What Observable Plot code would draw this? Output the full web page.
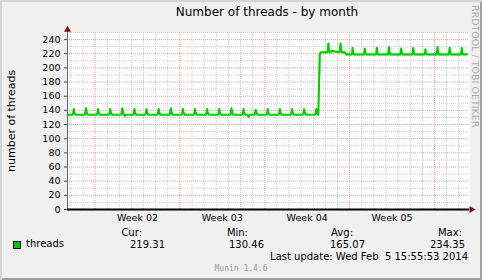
<!DOCTYPE html>
<html><head><meta charset="utf-8">
<script src="https://cdn.jsdelivr.net/npm/d3@7"></script>
<script src="https://cdn.jsdelivr.net/npm/@observablehq/plot@0.6"></script>
<style>
body{margin:0;background:#fff;}
#wrap{position:relative;width:482px;height:280px;background:#f0f0f0;overflow:hidden;font-family:"DejaVu Sans",sans-serif;color:#000;
 box-shadow: inset 2px 2px 0 #d4d4d4, inset -2px -2px 0 #a0a0a0;}
#wrap svg{position:absolute;left:0;top:0;overflow:visible;}
.t{position:absolute;white-space:pre;line-height:1;}
.r{transform:translateX(-100%);}
</style></head><body><div id="wrap"></div>
<script>
// ---- data ----
const xStart = "2014-01-03T17:30Z";
const xEnd = "2014-02-05T21:20Z";
const weekStarts = ["2014-01-06","2014-01-13","2014-01-20","2014-01-27","2014-02-03"];
const weekLabels = ["Week 02","Week 03","Week 04","Week 05"];
const weekLabelAt = ["2014-01-09T12:00Z","2014-01-16T12:00Z","2014-01-23T12:00Z","2014-01-30T12:00Z"];
const yTicks = [0,20,40,60,80,100,120,140,160,180,200,220,240];

// daily spike (around 06:00) per day
const spikeDays = ["2014-01-04","2014-01-05","2014-01-06","2014-01-07","2014-01-08","2014-01-09","2014-01-10","2014-01-11","2014-01-12","2014-01-13","2014-01-14","2014-01-15","2014-01-16","2014-01-17","2014-01-18","2014-01-19","2014-01-20","2014-01-21","2014-01-22","2014-01-23","2014-01-24","2014-01-25","2014-01-26","2014-01-27","2014-01-28","2014-01-29","2014-01-30","2014-01-31","2014-02-01","2014-02-02","2014-02-03","2014-02-04","2014-02-05"];
const dayBase = [134,134,134,134,134,134,134,134,134,134,134,134,134,134,134,134,134,134,134,134,134,222,222,219,219,219,219,219,219,219,219,219,219];
const dayBump = [138,139,138,138,139,138,138,138,139,138,138,138,138,139,138,138,138,138,138,138,138,225,225,221,221,221,222,221,221,221,222,221,221];
const dayPeak = [142,143,142,142,143,142,142,142,143,142,142,142,142,143,142,141,142,142,142,142,142,234,234,228,227,228,229,227,228,226,229,228,228];

// other readings: start, dips, the step, level change, last value
const extraTimes = ["2014-01-03T17:30Z","2014-01-08T09:00Z","2014-01-08T11:00Z","2014-01-08T13:00Z","2014-01-18T14:00Z","2014-01-18T16:00Z","2014-01-18T18:00Z","2014-01-24T10:00Z","2014-01-24T12:00Z","2014-01-24T13:00Z","2014-01-24T16:00Z","2014-01-25T14:00Z","2014-01-25T20:00Z","2014-01-26T14:00Z","2014-01-26T18:00Z","2014-02-05T16:00Z"];
const extraValues = [134,134,132,134,134,130.5,134,134,193,220,222,224,223,222,219,219.31];

const legendName = "threads";
const stats = {Cur: "219.31", Min: "130.46", Avg: "165.07", Max: "234.35"};

// ---- build series ----
const H = 3600e3;
const series = [];
spikeDays.forEach((d, i) => {
  const t0 = new Date(d + "T00:00Z").getTime();
  series.push({t: new Date(t0 + 4*H), v: dayBase[i]});
  series.push({t: new Date(t0 + 5*H), v: dayBump[i]});
  series.push({t: new Date(t0 + 6*H), v: dayPeak[i]});
  series.push({t: new Date(t0 + 7*H), v: dayBump[i]});
  series.push({t: new Date(t0 + 9*H), v: dayBase[i]});
});
extraTimes.forEach((s, i) => series.push({t: new Date(s), v: extraValues[i]}));
series.sort((a, b) => a.t - b.t);
const lastT = new Date(extraTimes[extraTimes.length - 1]);
const data = series.filter(d => d.t <= lastT);
const stepT = new Date("2014-01-24T12:00Z");

const x0 = new Date(xStart), x1 = new Date(xEnd);
const days = d3.utcDay.range(d3.utcDay.ceil(x0), x1).filter(d => !weekStarts.some(w => +new Date(w + "T00:00Z") === +d));
const weeks = weekStarts.map(w => new Date(w + "T00:00Z"));
const minorY = d3.range(10, 251, 20);
const majorY = yTicks.filter(v => v > 0);

const grid = "#c8c8c8", mgrid = "#f29a9a", arrow = "#7f1010";

const chart = Plot.plot({
  width: 482, height: 280,
  marginLeft: 67, marginRight: 13, marginTop: 32, marginBottom: 71,
  style: {background: "transparent", fontFamily: "DejaVu Sans, sans-serif"},
  x: {type: "utc", domain: [x0, x1], axis: null},
  y: {domain: [0, 250], axis: null},
  marks: [
    Plot.frame({fill: "white", stroke: null}),
    Plot.ruleX(days, {x: d => d, stroke: grid, strokeDasharray: "1,1"}),
    Plot.ruleY(minorY, {y: d => d, stroke: grid, strokeDasharray: "1,1"}),
    Plot.ruleX(weeks, {x: d => d, stroke: mgrid, strokeDasharray: "1,1"}),
    Plot.ruleY(majorY, {y: d => d, stroke: mgrid, strokeDasharray: "1,1"}),
    Plot.line(data.filter(d => d.t >= stepT), {x: "t", y: "v", stroke: "#22dd22", strokeWidth: 3.5, strokeOpacity: 0.25}),
    Plot.line(data, {x: "t", y: "v", stroke: "#00cc00", strokeWidth: 2}),
    // axes
    Plot.ruleX([x0], {x: d => d, y1: 0, y2: 254, stroke: "#666", strokeWidth: 1}),
    Plot.ruleY([0], {y: d => d, x1: x0, x2: x1, stroke: "#000", strokeWidth: 2}),
    Plot.axisY({ticks: yTicks, tickSize: 3, tickPadding: 4, fontSize: 9.5, label: null, stroke: "#444", fill: "#000"}),
    Plot.dot([x0], {x: d => d, y: 254, symbol: "triangle", r: 2.6, fill: arrow, stroke: null}),
    Plot.dot([x1], {x: d => d, y: 0, symbol: "triangle", r: 2.6, fill: arrow, stroke: null, rotate: 90, dx: 2}),
    Plot.text(weekLabels, {x: (d, i) => new Date(weekLabelAt[i]), frameAnchor: "bottom", dy: 8, lineAnchor: "middle", fontSize: 9.5, fill: "#000"})
  ]
});
const wrap = document.getElementById("wrap");
wrap.appendChild(chart);

function addText(txt, left, top, opts = {}) {
  const s = document.createElement("div");
  s.className = "t" + (opts.right ? " r" : "");
  s.textContent = txt;
  s.style.left = left + "px"; s.style.top = top + "px";
  s.style.fontSize = (opts.size || 10) + "px";
  if (opts.color) s.style.color = opts.color;
  if (opts.family) s.style.fontFamily = opts.family;
  if (opts.center) s.style.transform = "translateX(-50%)";
  if (opts.rot) { s.style.transformOrigin = "0 0"; s.style.transform = opts.rot; }
  wrap.appendChild(s);
  return s;
}
addText("Number of threads - by month", 267, 6, {size: 12, center: true});
addText("number of threads", 6, 172, {size: 11, rot: "rotate(-90deg)"});
addText("RRDTOOL / TOBI OETIKER", 480, 5, {size: 9.5, color: "#aaa", rot: "rotate(90deg)"});
// legend
const sw = document.createElement("div");
sw.style.cssText = "position:absolute;left:13px;top:241px;width:6px;height:6px;background:#00cc00;border:1px solid #000;";
wrap.appendChild(sw);
addText(legendName, 26, 239, {size: 10});
const keys = Object.keys(stats);
const labelRight = [142, 248, 353, 462];
const valueRight = [165, 264, 365, 465];
keys.forEach((k, i) => {
  addText(k + ":", labelRight[i], 228, {size: 10, right: true});
  addText(stats[k], valueRight[i], 240, {size: 10, right: true});
});
addText("Last update: Wed Feb  5 15:55:53 2014", 468, 252, {size: 10, right: true});
addText("Munin 1.4.6", 241, 265, {size: 8, color: "#999", center: true, family: "DejaVu Sans Mono, monospace"});
</script></body></html>
